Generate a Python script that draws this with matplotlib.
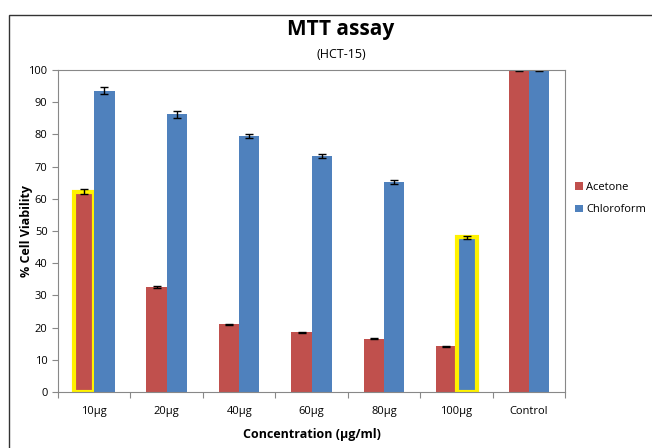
import matplotlib
matplotlib.use("Agg")
import matplotlib.pyplot as plt
import numpy as np
from matplotlib.patches import Rectangle, Patch

categories = ["10µg", "20µg", "40µg", "60µg", "80µg", "100µg", "Control"]
acetone = [62.2, 32.6, 21.0, 18.5, 16.5, 14.2, 100.0]
acetone_err = [0.8, 0.3, 0.2, 0.2, 0.2, 0.1, 0.5]
chloroform = [93.6, 86.2, 79.4, 73.3, 65.3, 48.0, 100.0]
chloroform_err = [1.0, 1.0, 0.7, 0.6, 0.6, 0.5, 0.5]
highlight = [("Acetone", 0), ("Chloroform", 5)]

RED = "#C0504D"
BLUE = "#4F81BD"

plt.rcParams["font.family"] = ["Open Sans", "DejaVu Sans"]

fig = plt.figure(figsize=(6.52, 4.48), dpi=100)
ax = fig.add_axes([0.089, 0.125, 0.778, 0.719])

x = np.arange(len(categories))
w = 0.28
err_kw = dict(elinewidth=1, capsize=3, capthick=1, ecolor="black")
b1 = ax.bar(x - w / 2, acetone, w, yerr=acetone_err, color=RED,
            error_kw=err_kw, zorder=2)
b2 = ax.bar(x + w / 2, chloroform, w, yerr=chloroform_err, color=BLUE,
            error_kw=err_kw, zorder=2)

bars = {"Acetone": b1, "Chloroform": b2}
for name, i in highlight:
    bar = bars[name][i]
    bar.set_edgecolor("#FFF200")
    bar.set_linewidth(3)

ax.set_xlim(-0.5, len(categories) - 0.5)
ax.set_ylim(0, 100)
ax.set_yticks(range(0, 101, 10))
ax.set_xticks(np.arange(-0.5, len(categories), 1), minor=False)
ax.set_xticklabels([])
ax.set_xticks(x, minor=True)
ax.set_xticklabels(categories, minor=True, fontsize=8)
ax.tick_params(axis="x", which="minor", length=0, pad=10)
ax.tick_params(axis="x", which="major", length=4, direction="out", color="#888888")
ax.tick_params(axis="y", labelsize=8, length=4, color="#888888")
for s in ax.spines.values():
    s.set_color("#888888")
ax.set_xlabel("Concentration (µg/ml)", fontsize=9, fontweight="bold", labelpad=8)
ax.set_ylabel("% Cell Viability", fontsize=9, fontweight="bold")
ax.yaxis.set_label_coords(-0.05, 0.5)

fig.text(0.523, 0.935, "MTT assay", ha="center", va="center", fontsize=15, fontweight="bold")
fig.text(0.523, 0.878, "(HCT-15)", ha="center", va="center", fontsize=9)

handles = [Patch(facecolor=RED, label="Acetone"), Patch(facecolor=BLUE, label="Chloroform")]
ax.legend(handles=handles, loc="center left", bbox_to_anchor=(1.0, 0.6), frameon=False,
          fontsize=8, handlelength=0.7, handleheight=0.7, handletextpad=0.3, labelspacing=1.0)

fig.patches.append(Rectangle((0.014, -0.01), 1.0, 0.977, transform=fig.transFigure,
                             fill=False, edgecolor="#333333", linewidth=1))

fig.savefig("out.png", dpi=100)
